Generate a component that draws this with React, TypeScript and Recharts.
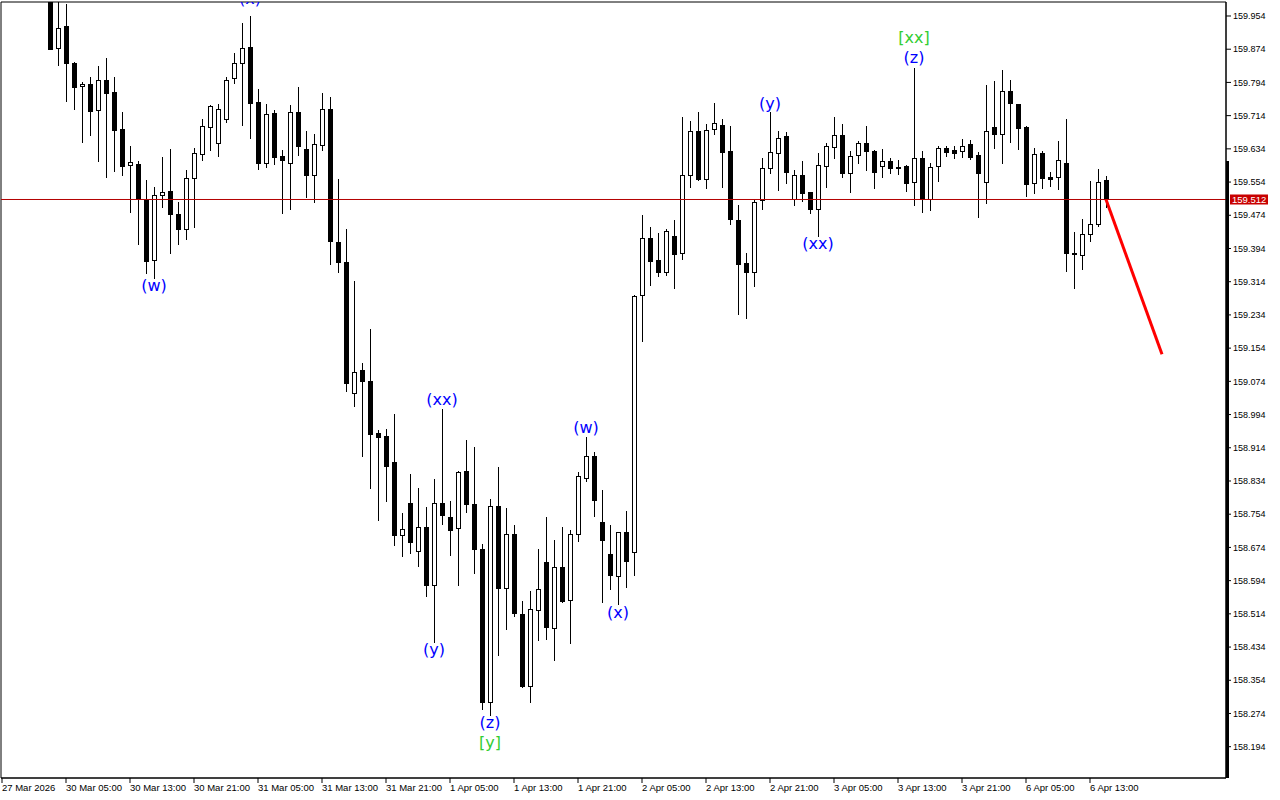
import React from "react"
import { ComposedChart, Bar, Line, Scatter, XAxis, YAxis, ReferenceLine, ReferenceArea } from "recharts"

// H1 candles, first visible bar is 30 Mar 03:00 (bar index 6 counted from 27 Mar 21:00)
const FIRST = 6

const open = [
  160.020, 159.878, 159.930, 159.841, 159.785, 159.790, 159.727, 159.801, 159.771, 159.682,
  159.596, 159.597, 159.510, 159.366, 159.522, 159.532, 159.477, 159.440, 159.563, 159.621,
  159.687, 159.647, 159.705, 159.804, 159.840, 159.879, 159.747, 159.599, 159.721, 159.617,
  159.599, 159.723, 159.633, 159.571, 159.644, 159.730, 159.409, 159.361, 159.046, 159.101,
  159.076, 158.949, 158.943, 158.879, 158.704, 158.782, 158.666, 158.723, 158.583, 158.782,
  158.748, 158.721, 158.857, 158.779, 158.671, 158.301, 158.774, 158.576, 158.707, 158.514,
  158.339, 158.524, 158.639, 158.479, 158.628, 158.548, 158.707, 158.842, 158.893, 158.736,
  158.659, 158.605, 158.710, 158.664, 159.281, 159.419, 159.366, 159.338, 159.423, 159.382,
  159.572, 159.676, 159.562, 159.681, 159.691, 159.629, 159.462, 159.358, 159.338, 159.510,
  159.587, 159.623, 159.665, 159.514, 159.571, 159.529, 159.488, 159.593, 159.639, 159.667,
  159.575, 159.619, 159.648, 159.630, 159.592, 159.604, 159.591, 159.592, 159.553, 159.613,
  159.512, 159.592, 159.635, 159.631, 159.629, 159.645, 159.619, 159.555, 159.686, 159.669,
  159.774, 159.741, 159.686, 159.552, 159.623, 159.567, 159.567, 159.601, 159.383, 159.379,
  159.428, 159.454, 159.559,
]
const high = [
  160.040, 160.000, 159.983, 159.843, 159.796, 159.806, 159.833, 159.854, 159.806, 159.722,
  159.641, 159.605, 159.559, 159.541, 159.615, 159.633, 159.506, 159.583, 159.636, 159.706,
  159.740, 159.742, 159.808, 159.866, 159.938, 159.954, 159.778, 159.742, 159.727, 159.631,
  159.739, 159.782, 159.677, 159.670, 159.769, 159.760, 159.561, 159.441, 159.315, 159.118,
  159.201, 158.956, 158.960, 158.995, 158.757, 158.851, 158.818, 158.772, 158.839, 159.008,
  158.785, 158.857, 158.932, 158.917, 158.683, 158.790, 158.867, 158.769, 158.727, 158.546,
  158.568, 158.669, 158.747, 158.692, 158.724, 158.715, 158.855, 158.941, 158.904, 158.813,
  158.729, 158.712, 158.762, 159.283, 159.474, 159.446, 159.432, 159.441, 159.462, 159.710,
  159.702, 159.723, 159.694, 159.745, 159.705, 159.688, 159.499, 159.383, 159.511, 159.611,
  159.723, 159.677, 159.674, 159.583, 159.605, 159.530, 159.623, 159.647, 159.711, 159.694,
  159.629, 159.653, 159.689, 159.631, 159.633, 159.612, 159.607, 159.595, 159.829, 159.629,
  159.599, 159.641, 159.641, 159.641, 159.657, 159.655, 159.627, 159.788, 159.797, 159.825,
  159.801, 159.741, 159.689, 159.635, 159.629, 159.578, 159.653, 159.705, 159.433, 159.464,
  159.557, 159.585, 159.568,
]
const low = [
  159.874, 159.836, 159.750, 159.731, 159.651, 159.667, 159.605, 159.567, 159.581, 159.571,
  159.482, 159.406, 159.334, 159.324, 159.493, 159.382, 159.406, 159.416, 159.446, 159.607,
  159.631, 159.617, 159.699, 159.793, 159.691, 159.661, 159.585, 159.591, 159.597, 159.480,
  159.489, 159.620, 159.518, 159.506, 159.631, 159.357, 159.337, 159.050, 159.015, 158.894,
  158.816, 158.741, 158.785, 158.680, 158.653, 158.660, 158.630, 158.557, 158.445, 158.730,
  158.655, 158.583, 158.759, 158.612, 158.285, 158.271, 158.416, 158.478, 158.510, 158.338,
  158.301, 158.452, 158.454, 158.403, 158.542, 158.443, 158.689, 158.835, 158.749, 158.542,
  158.574, 158.538, 158.578, 158.608, 159.171, 159.305, 159.328, 159.330, 159.299, 159.368,
  159.543, 159.560, 159.539, 159.670, 159.543, 159.452, 159.236, 159.226, 159.303, 159.490,
  159.575, 159.535, 159.551, 159.498, 159.509, 159.480, 159.424, 159.542, 159.611, 159.567,
  159.529, 159.599, 159.584, 159.540, 159.567, 159.575, 159.573, 159.533, 159.498, 159.482,
  159.486, 159.557, 159.616, 159.612, 159.615, 159.609, 159.470, 159.504, 159.635, 159.600,
  159.651, 159.633, 159.521, 159.528, 159.539, 159.544, 159.537, 159.340, 159.299, 159.344,
  159.412, 159.448, 159.493,
]
const close = [
  159.875, 159.924, 159.840, 159.784, 159.790, 159.726, 159.801, 159.769, 159.680, 159.593,
  159.602, 159.512, 159.364, 159.522, 159.530, 159.478, 159.440, 159.563, 159.623, 159.689,
  159.737, 159.731, 159.800, 159.840, 159.876, 159.745, 159.600, 159.719, 159.615, 159.607,
  159.723, 159.641, 159.571, 159.645, 159.730, 159.413, 159.362, 159.070, 159.096, 159.074,
  158.947, 158.940, 158.871, 158.704, 158.718, 158.688, 158.724, 158.583, 158.782, 158.752,
  158.717, 158.855, 158.778, 158.670, 158.301, 158.774, 158.576, 158.707, 158.515, 158.341,
  158.526, 158.574, 158.482, 158.628, 158.546, 158.707, 158.847, 158.893, 158.789, 158.691,
  158.608, 158.710, 158.641, 159.279, 159.419, 159.364, 159.338, 159.435, 159.380, 159.572,
  159.676, 159.562, 159.679, 159.697, 159.627, 159.464, 159.356, 159.338, 159.507, 159.589,
  159.627, 159.659, 159.579, 159.571, 159.528, 159.490, 159.595, 159.641, 159.667, 159.576,
  159.616, 159.648, 159.630, 159.579, 159.604, 159.588, 159.588, 159.552, 159.612, 159.512,
  159.591, 159.635, 159.627, 159.624, 159.642, 159.615, 159.575, 159.677, 159.669, 159.774,
  159.744, 159.685, 159.549, 159.621, 159.564, 159.562, 159.607, 159.382, 159.381, 159.430,
  159.454, 159.553, 159.512,
]

const xTickIdx = [0, 8, 16, 24, 32, 40, 48, 56, 64, 72, 80, 88, 96, 104, 112, 120, 128, 136]
const xTickLabels = [
  "27 Mar 2026", "30 Mar 05:00", "30 Mar 13:00", "30 Mar 21:00", "31 Mar 05:00", "31 Mar 13:00",
  "31 Mar 21:00", "1 Apr 05:00", "1 Apr 13:00", "1 Apr 21:00", "2 Apr 05:00", "2 Apr 13:00",
  "2 Apr 21:00", "3 Apr 05:00", "3 Apr 13:00", "3 Apr 21:00", "6 Apr 05:00", "6 Apr 13:00",
]
const yTicks = [
  159.954, 159.874, 159.794, 159.714, 159.634, 159.554, 159.474, 159.394, 159.314, 159.234,
  159.154, 159.074, 158.994, 158.914, 158.834, 158.754, 158.674, 158.594, 158.514, 158.434,
  158.354, 158.274, 158.194,
]

const lastPrice = 159.512
// red projection from the last close
const forecast = [
  { i: 138, v: 159.512 },
  { i: 145, v: 159.139 },
]

const BLUE = "#0000ff"
const GREEN = "#32cd32"
const waveLabels = [
  { i: 31, p: 159.995, t: "(x)", color: BLUE },
  { i: 19, p: 159.304, t: "(w)", color: BLUE },
  { i: 55, p: 159.031, t: "(xx)", color: BLUE },
  { i: 54, p: 158.427, t: "(y)", color: BLUE },
  { i: 61, p: 158.253, t: "(z)", color: BLUE },
  { i: 61, p: 158.203, t: "[y]", color: GREEN },
  { i: 73, p: 158.964, t: "(w)", color: BLUE },
  { i: 77, p: 158.518, t: "(x)", color: BLUE },
  { i: 96, p: 159.744, t: "(y)", color: BLUE },
  { i: 102, p: 159.405, t: "(xx)", color: BLUE },
  { i: 114, p: 159.853, t: "(z)", color: BLUE },
  { i: 114, p: 159.901, t: "[xx]", color: GREEN },
]

const rows = open.map((o, k) => ({ i: FIRST + k, o, h: high[k], l: low[k], c: close[k], range: [low[k], high[k]] }))

const X_MIN = -0.125
const X_MAX = 153
const Y_MIN = 158.1186
const Y_MAX = 159.9877
const FONT = "'Liberation Sans', Arial, sans-serif"

const Candle = (props: any) => {
  const { x, y, width, height, payload } = props
  if (!payload || x == null || y == null) return null
  const { o, h, l, c } = payload
  const top = Math.min(y, y + height)
  const hh = Math.abs(height)
  const span = h - l || 1
  const py = (p: number) => top + ((h - p) / span) * hh
  const cx = Math.round(x + width / 2) + 0.5
  const bTop = Math.round(py(Math.max(o, c))) + 0.5
  const bBot = Math.round(py(Math.min(o, c))) + 0.5
  const up = c >= o
  return (
    <g>
      <line x1={cx} x2={cx} y1={Math.round(top)} y2={Math.round(top + hh) + 1} stroke="#000" strokeWidth={1} />
      {bBot - bTop < 1 ? (
        <line x1={cx - 2.5} x2={cx + 2.5} y1={bTop} y2={bTop} stroke="#000" strokeWidth={1} />
      ) : (
        <rect x={cx - 2} y={bTop} width={4} height={bBot - bTop} fill={up ? "#fff" : "#000"} stroke="#000" strokeWidth={1} />
      )}
    </g>
  )
}

const TimeTick = ({ x, y, payload }: any) => {
  const k = xTickIdx.indexOf(payload.value)
  return (
    <text x={x} y={y} dy="0.71em" textAnchor="start" fontSize={9.5} fontFamily={FONT} fill="#000">
      {k >= 0 ? xTickLabels[k] : ""}
    </text>
  )
}

const PriceTag = ({ viewBox }: any) => {
  if (!viewBox) return null
  const { x, y, width } = viewBox
  return (
    <g>
      <rect x={x + width + 4} y={y - 5} width={38} height={10} fill="#c80000" />
      <text x={x + width + 6} y={y} dy="0.36em" fontSize={9.5} fontFamily={FONT} fill="#fff">
        {lastPrice.toFixed(3)}
      </text>
    </g>
  )
}

const WaveLabel = ({ cx, cy, payload }: any) => (
  <text x={cx} y={cy} textAnchor="middle" dominantBaseline="central" fontSize={16} fontFamily="'DejaVu Sans', sans-serif" fill={payload.color}>
    {payload.t}
  </text>
)

export default function App() {
  return (
    <div style={{ position: "absolute", left: 0, top: 0, width: 1280, height: 800, background: "#fff" }}>
      <ComposedChart width={1280} height={800} data={rows} margin={{ top: 2, right: 0, bottom: 0, left: 1 }}>
        <XAxis
          type="number"
          dataKey="i"
          domain={[X_MIN, X_MAX]}
          allowDataOverflow
          ticks={xTickIdx}
          interval={0}
          tick={<TimeTick />}
          height={22}
          tickSize={5}
          tickMargin={1}
          axisLine={{ stroke: "#000" }}
          tickLine={{ stroke: "#000" }}
        />
        <YAxis
          orientation="right"
          type="number"
          domain={[Y_MIN, Y_MAX]}
          allowDataOverflow
          ticks={yTicks}
          interval={0}
          tickFormatter={(v: number) => v.toFixed(3)}
          width={54}
          tickSize={5}
          tickMargin={2}
          tick={{ fontSize: 9, fontFamily: FONT, fill: "#000" }}
          axisLine={{ stroke: "#000" }}
          tickLine={{ stroke: "#000" }}
        />
        <ReferenceArea x1={X_MIN} x2={X_MAX} y1={Y_MIN} y2={Y_MAX} fill="none" stroke="#000" strokeWidth={1} />
        <ReferenceLine y={lastPrice} stroke="#b40000" strokeWidth={1} label={<PriceTag />} />
        <Bar dataKey="range" barSize={4} shape={<Candle />} isAnimationActive={false} />
        <Line data={forecast} dataKey="v" stroke="#ff0000" strokeWidth={3} dot={false} isAnimationActive={false} />
        <Scatter data={waveLabels} dataKey="p" shape={<WaveLabel />} isAnimationActive={false} />
      </ComposedChart>
      <div style={{ position: "absolute", left: 1226, top: 161, width: 3, height: 617, background: "#000" }} />
    </div>
  )
}
